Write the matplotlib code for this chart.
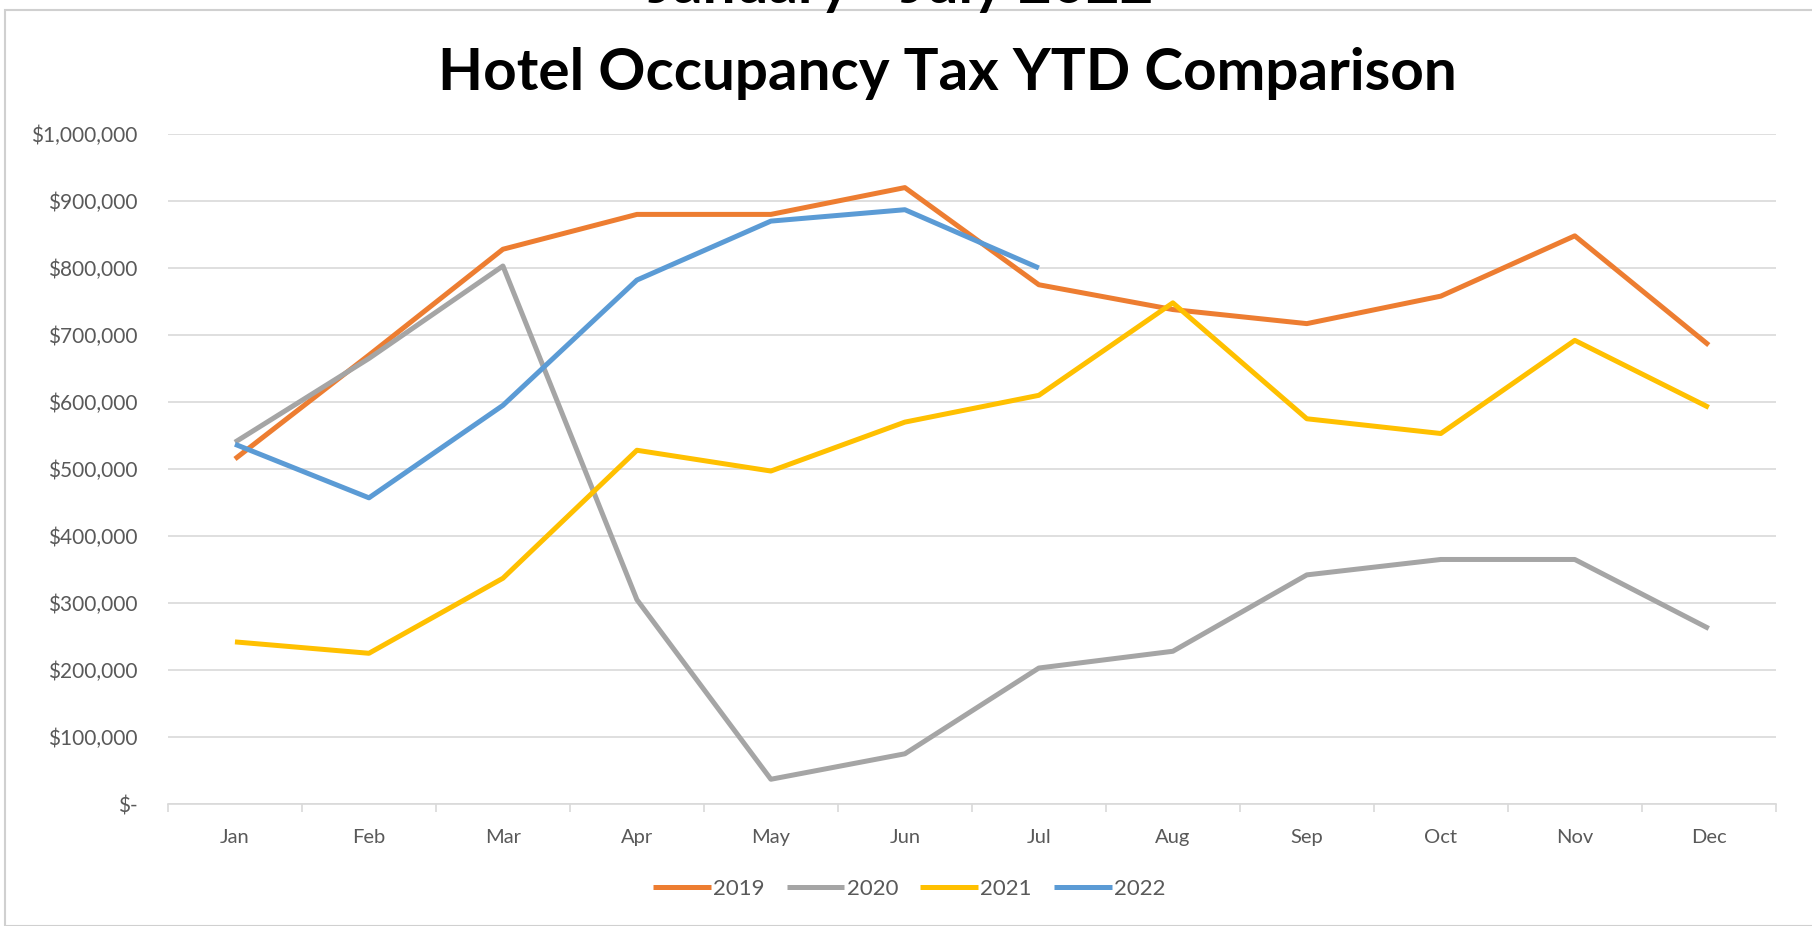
import matplotlib.pyplot as plt
from matplotlib.patches import Rectangle
from matplotlib.ticker import FuncFormatter

# ---------- Data ----------
months = ["Jan", "Feb", "Mar", "Apr", "May", "Jun",
          "Jul", "Aug", "Sep", "Oct", "Nov", "Dec"]

tax_2019 = [515000, 670000, 828000, 880000, 880000, 920000,
            775000, 738000, 717000, 758000, 848000, 685000]
tax_2020 = [540000, 665000, 803000, 305000, 37000, 75000,
            203000, 228000, 342000, 365000, 365000, 262000]
tax_2021 = [242000, 225000, 337000, 528000, 497000, 570000,
            610000, 748000, 575000, 553000, 692000, 592000]
tax_2022 = [537000, 457000, 595000, 782000, 870000, 887000, 800000]

series = [("2019", tax_2019, "#ED7D31"),
          ("2020", tax_2020, "#A5A5A5"),
          ("2021", tax_2021, "#FFC000"),
          ("2022", tax_2022, "#5B9BD5")]

plt.rcParams["font.family"] = ["Lato", "DejaVu Sans"]

fig = plt.figure(figsize=(18.12, 9.26), dpi=100)
ax = fig.add_axes([0.0927, 0.1317, 0.8873, 0.7236])

# chart frame
fig.patches.append(Rectangle((5 / 1812, 0.0), 1.0, 1 - 10 / 926,
                             transform=fig.transFigure, fill=False,
                             edgecolor="#D0D0D0", linewidth=1.5))

for label, vals, col in series:
    ax.plot(range(len(vals)), vals, color=col, linewidth=3.6,
            label=label, solid_capstyle="butt")

ax.set_xlim(-0.5, 11.5)
ax.set_ylim(0, 1000000)
ax.set_yticks(range(0, 1000001, 100000))
ax.yaxis.set_major_formatter(
    FuncFormatter(lambda v, p: "$-" if v == 0 else f"${v:,.0f}"))
ax.set_xticks(range(12))
ax.set_xticklabels(months)
ax.set_xticks([i - 0.5 for i in range(13)], minor=True)

ax.grid(axis="y", color="#D9D9D9", linewidth=1.2)
ax.set_axisbelow(True)
for s in ["top", "right", "left"]:
    ax.spines[s].set_visible(False)
ax.spines["bottom"].set_color("#D9D9D9")
ax.spines["bottom"].set_linewidth(1.2)

ax.tick_params(axis="y", length=0, pad=22, labelsize=15, labelcolor="#595959")
ax.tick_params(axis="x", which="major", length=0, pad=18, labelsize=14.5,
               labelcolor="#595959")
ax.tick_params(axis="x", which="minor", length=6, color="#D9D9D9", width=1.2)

# titles (top one is cut off by the image edge)
fig.text(0.497, 1 - 3 / 926, "January - July 2022", ha="center",
         va="baseline", fontsize=42, fontweight="bold", color="#000000")
fig.text(0.523, 1 - 74 / 926, "Hotel Occupancy Tax YTD Comparison",
         ha="center", va="center", fontsize=42, fontweight="bold",
         color="#000000")

ax.legend(loc="center", bbox_to_anchor=(0.461, -0.127), ncol=4,
          frameon=False, fontsize=16, handlelength=2.6, handletextpad=0.1,
          columnspacing=1.0, labelcolor="#595959")

fig.savefig("out.png", dpi=100)
